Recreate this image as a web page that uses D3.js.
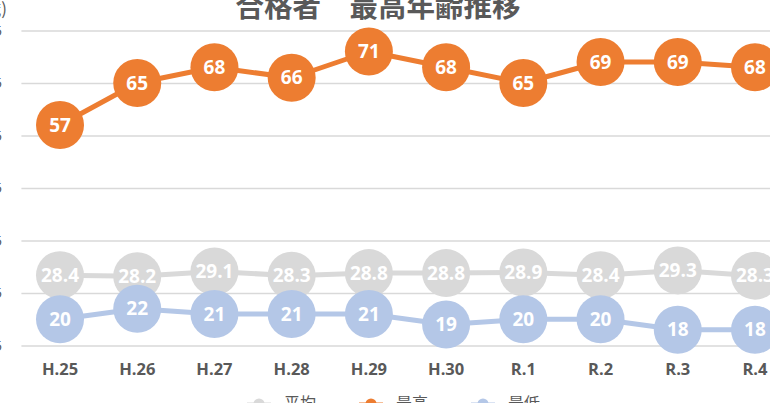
<!DOCTYPE html>
<html><head><meta charset="utf-8">
<script src="https://cdn.jsdelivr.net/npm/d3@7"></script>
<style>
html,body{margin:0;padding:0;background:#fff;overflow:hidden;}
svg{display:block;}
</style></head>
<body>
<svg id="chart" width="770" height="403"></svg>
<script>
const categories = ["H.25","H.26","H.27","H.28","H.29","H.30","R.1","R.2","R.3","R.4"];
const avgValues = [28.4,28.2,29.1,28.3,28.8,28.8,28.9,28.4,29.3,28.3];
const maxValues = [57,65,68,66,71,68,65,69,69,68];
const minValues = [20,22,21,21,21,19,20,20,18,18];
const yTicks = [15,25,35,45,55,65,75];
const seriesNames = ["平均","最高","最低"];
const title = "合格者　最高年齢推移";
const unitLabel = "(歳)";

const series = [
  {name: seriesNames[0], values: avgValues, color: "#D9D9D9"},
  {name: seriesNames[1], values: maxValues, color: "#ED7D31"},
  {name: seriesNames[2], values: minValues, color: "#B4C7E7"}
];

const svg = d3.select("#chart");
const plotLeft = 21.4, plotRight = 793.6, plotTop = 30.5, plotBottom = 345.5;

const x = d3.scaleBand().domain(categories).range([plotLeft, plotRight]).padding(0);
const cx = c => x(c) + x.bandwidth() / 2;
const y = d3.scaleLinear().domain([15, 75]).range([plotBottom, plotTop]);

// gridlines + y labels
const yAxis = d3.axisLeft(y).tickValues(yTicks).tickSize(-(plotRight - plotLeft)).tickPadding(19.4).tickFormat(d3.format("d"));
const gy = svg.append("g").attr("transform", `translate(${plotLeft},0)`).call(yAxis);
gy.select(".domain").remove();
gy.selectAll(".tick line").attr("stroke", "#D9D9D9").attr("stroke-width", 1.5);
gy.selectAll(".tick text").attr("fill", "#595959").style("font-family", "'Open Sans', sans-serif").style("font-size", "15px");

// x axis labels
const xAxis = d3.axisBottom(x).tickSize(0).tickPadding(18);
const gx = svg.append("g").attr("transform", `translate(0,${plotBottom})`).call(xAxis);
gx.select(".domain").remove();
gx.selectAll(".tick text").attr("fill", "#595959")
  .style("font-family", "'Open Sans', sans-serif").style("font-size", "16.5px").style("font-weight", "bold");

// title
svg.append("text").attr("x", 378).attr("y", 16.5).attr("text-anchor", "middle")
  .attr("fill", "#595959").style("font-family", "'Noto Sans CJK JP', sans-serif")
  .style("font-size", "28.5px").style("font-weight", "bold").text(title);

// unit label
svg.append("text").attr("x", 7).attr("y", 15).attr("text-anchor", "end")
  .attr("fill", "#595959").style("font-family", "'Noto Sans CJK JP', sans-serif")
  .style("font-size", "17px").text(unitLabel);

const line = d3.line().x(d => cx(d.c)).y(d => y(d.v));

series.forEach(s => {
  const pts = categories.map((c, i) => ({c, v: s.values[i]}));
  const g = svg.append("g");
  g.append("path").datum(pts).attr("d", line).attr("fill", "none")
    .attr("stroke", s.color).attr("stroke-width", 5).attr("stroke-linejoin", "round");
  g.selectAll("circle").data(pts).join("circle")
    .attr("cx", d => cx(d.c)).attr("cy", d => y(d.v)).attr("r", 24).attr("fill", s.color);
  s.pts = pts;
});

series.forEach(s => {
  svg.append("g").selectAll("text").data(s.pts).join("text")
    .attr("x", d => cx(d.c)).attr("y", d => y(d.v)).attr("dy", "0.35em")
    .attr("text-anchor", "middle").attr("fill", "#fff")
    .style("font-family", "'Open Sans', sans-serif").style("font-size", "19px").style("font-weight", "bold")
    .text(d => d.v);
});

// legend
const legendX = [259, 371, 483];
const lg = svg.append("g");
series.forEach((s, i) => {
  const g = lg.append("g");
  g.append("line").attr("x1", legendX[i] - 12).attr("x2", legendX[i] + 12).attr("y1", 404).attr("y2", 404)
    .attr("stroke", s.color).attr("stroke-width", 3);
  g.append("circle").attr("cx", legendX[i]).attr("cy", 404).attr("r", 5.5).attr("fill", s.color);
  g.append("text").attr("x", legendX[i] + 25).attr("y", 409).attr("fill", "#595959")
    .style("font-family", "'Noto Sans CJK JP', sans-serif").style("font-size", "16px").text(s.name);
});
</script>
</body></html>
